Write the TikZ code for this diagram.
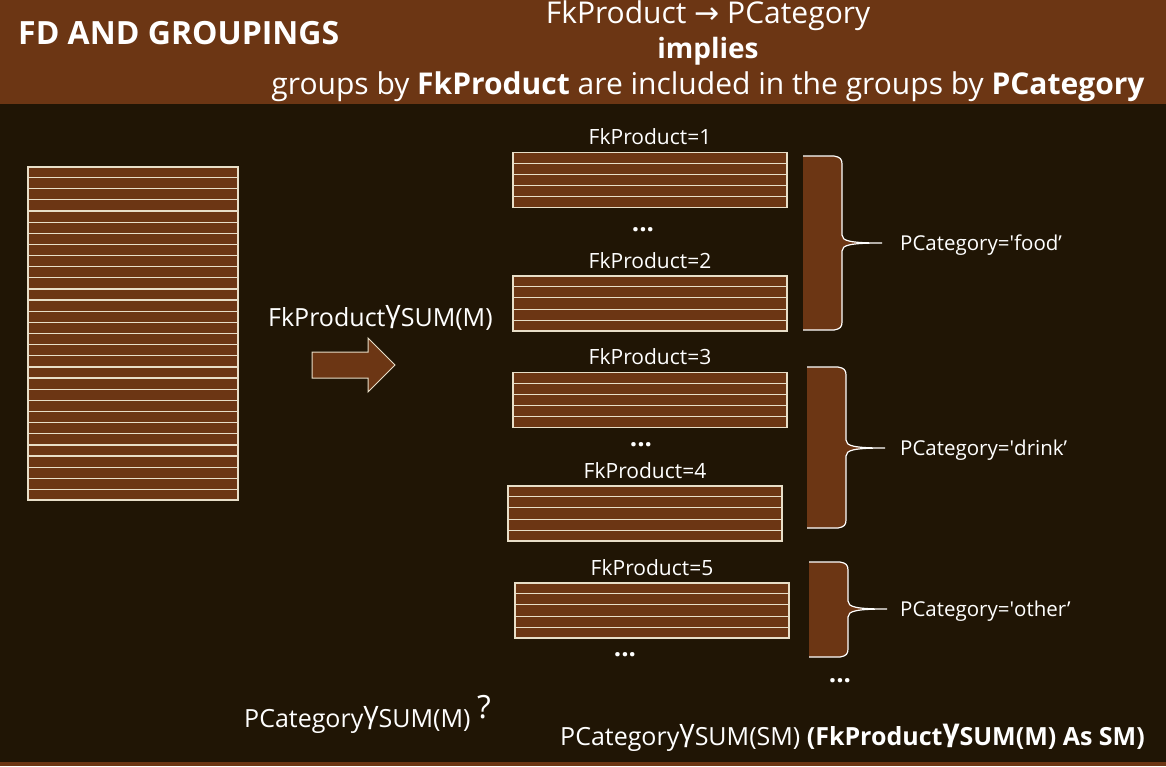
\documentclass[tikz,border=0pt]{standalone}
\usepackage{fontspec}
\usepackage{graphicx}
\setmainfont{Open Sans}
\newfontfamily\symfont{DejaVu Sans}
\usetikzlibrary{positioning,calc}

\definecolor{hdrbrown}{RGB}{108,54,20}
\definecolor{darkbg}{RGB}{32,21,5}
\definecolor{rowline}{RGB}{232,222,200}

\newcommand{\gam}{\raisebox{0.2em}{\scalebox{1.2}{γ}}}
% brace outline: left, top, bottom, tip y, tip x
\newcommand{\bracepath}[5]{(#1,#2) -- ({#1+31},#2) .. controls ({#1+37},{#2+1}) and ({#1+39},{#2+3}) .. ({#1+39},{#2+8})
  -- ({#1+39},{#4-8}) .. controls ({#1+39},{#4-2}) and ({#1+47},#4) .. (#5,#4)
  .. controls ({#1+47},#4) and ({#1+39},{#4+2}) .. ({#1+39},{#4+8})
  -- ({#1+39},{#3-8}) .. controls ({#1+39},{#3-3}) and ({#1+37},{#3-1}) .. ({#1+31},#3) -- (#1,#3)}

\begin{document}
\begin{tikzpicture}[x=1pt,y=-1pt,
  hdr/.style={text=white,inner sep=0pt,anchor=base,font=\fontsize{30}{34}\selectfont},
  lbl/.style={text=white,inner sep=0pt,font=\fontsize{21}{24}\selectfont},
  cat/.style={text=white,inner sep=0pt,anchor=base west,font=\fontsize{20.5}{24}\selectfont},
  expr/.style={text=white,inner sep=0pt,anchor=base west,font=\fontsize{25}{29}\selectfont},
  grp/.style={draw=rowline,fill=hdrbrown,line width=1.2pt,minimum width=274pt,minimum height=55pt,inner sep=0pt},
  rowsep/.style={draw=rowline,line width=1.2pt},
  dots/.style={text=white,inner sep=0pt,anchor=base,font=\fontsize{26}{28}\selectfont\bfseries}]
  \useasboundingbox (0,0) rectangle (1166,766);
  \fill[darkbg] (0,0) rectangle (1166,766);
  \fill[hdrbrown] (0,0) rectangle (1166,104);
  \fill[hdrbrown] (0,762) rectangle (1166,766);

  % header
  \node[hdr,anchor=base west,font=\fontsize{32}{36}\selectfont\bfseries] (title) at (18,44) {FD AND GROUPINGS};
  \node[hdr] (fd)    at (708,23) {FkProduct\ {\symfont →}\ PCategory};
  \node[hdr,font=\fontsize{28}{32}\selectfont\bfseries] (impl) at (708,58) {implies};
  \node[hdr] (incl)  at (708,94) {groups by \textbf{FkProduct} are included in the groups by \textbf{PCategory}};

  % source table
  \node[grp,minimum width=210pt,minimum height=333pt] (src) at (133,333.5) {};
  \foreach \k in {1,...,29}
    \draw[rowsep] ($(src.north west)!\k/30!(src.south west)$) -- ($(src.north east)!\k/30!(src.south east)$);

  % grouping
  \node[expr] (gby) at (268,326) {FkProduct\gam SUM(M)};
  \fill[hdrbrown] (312,352) -- (368,352) -- (368,338) -- (395,365) -- (368,392) -- (368,378) -- (312,378) -- cycle;
  \draw[rowline,line width=1pt] (312,352) -- (368,352) -- (368,338) -- (395,365) -- (368,392) -- (368,378) -- (312,378) -- cycle;

  % groups
  \node[grp] (t1) at (650,180) {};
  \node[grp] (t2) at (650,303.5) {};
  \node[grp] (t3) at (650,400) {};
  \node[grp] (t4) at (645,513.5) {};
  \node[grp] (t5) at (652,610.5) {};
  \foreach \t in {t1,t2,t3,t4,t5}
    \foreach \k in {1,...,4}
      \draw[rowsep] ($(\t.north west)!\k/5!(\t.south west)$) -- ($(\t.north east)!\k/5!(\t.south east)$);
  \node[lbl,above=7pt of t1] (l1) {FkProduct=1};
  \node[lbl,above=7pt of t2] (l2) {FkProduct=2};
  \node[lbl,above=7pt of t3] (l3) {FkProduct=3};
  \node[lbl,above=7pt of t4] (l4) {FkProduct=4};
  \node[lbl,above=7pt of t5] (l5) {FkProduct=5};
  \node[dots] (d1) at (643,231) {...};
  \node[dots] (d2) at (641,446) {...};
  \node[dots] (d3) at (625,656) {...};
  \node[dots] (d4) at (840,682) {...};

  % braces
  \fill[hdrbrown] \bracepath{803}{156}{330}{243}{882} -- cycle;
  \draw[white,line width=1.2pt] \bracepath{803}{156}{330}{243}{882};
  \fill[hdrbrown] \bracepath{807}{367}{528}{448}{885} -- cycle;
  \draw[white,line width=1.2pt] \bracepath{807}{367}{528}{448}{885};
  \fill[hdrbrown] \bracepath{809}{562}{657}{609}{887} -- cycle;
  \draw[white,line width=1.2pt] \bracepath{809}{562}{657}{609}{887};
  \coordinate (b1) at (882,243);
  \coordinate (b2) at (885,448);
  \coordinate (b3) at (887,609);
  \node[cat] (c1) at ([xshift=18pt,yshift=-7pt]b1) {PCategory=\textquotesingle food'};
  \node[cat] (c2) at ([xshift=15pt,yshift=-7pt]b2) {PCategory=\textquotesingle drink'};
  \node[cat] (c3) at ([xshift=13pt,yshift=-7pt]b3) {PCategory=\textquotesingle other'};

  % bottom expressions
  \node[expr] (ask) at (244,727) {PCategory\gam SUM(M)};
  \node[expr,font=\fontsize{32}{36}\selectfont] (q) at (477,718) {?};
  \node[expr] (ans) at (560,745) {PCategory\gam SUM(SM) \textbf{(FkProduct\gam SUM(M) As SM)}};
\end{tikzpicture}
\end{document}
